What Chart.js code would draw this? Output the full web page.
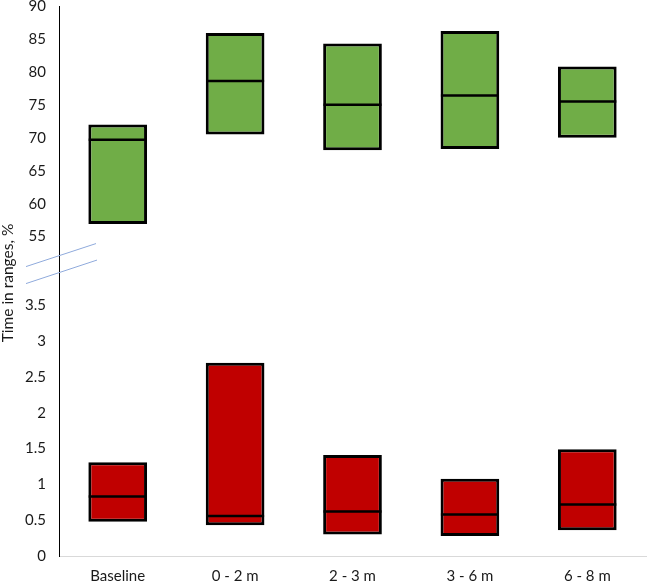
<!DOCTYPE html>
<html>
<head>
<meta charset="utf-8">
<script src="https://cdn.jsdelivr.net/npm/chart.js@4/dist/chart.umd.min.js"></script>
<style>
  html, body { margin: 0; padding: 0; background: #fff; }
  #wrap { width: 647px; height: 585px; }
</style>
</head>
<body>
<div id="wrap"><canvas id="tir-chart"></canvas></div>
<script>
const categories = ["Baseline", "0 - 2 m", "2 - 3 m", "3 - 6 m", "6 - 8 m"];

// time in range (upper panel), %
const tirLow    = [56.9, 70.5, 68.1, 68.3, 70.0];
const tirMedian = [69.7, 78.6, 75.0, 76.4, 75.5];
const tirHigh   = [72.0, 85.9, 84.3, 86.2, 80.8];

// time below range (lower panel), %
const tbrLow    = [0.48, 0.43, 0.30, 0.28, 0.36];
const tbrMedian = [0.83, 0.56, 0.62, 0.58, 0.72];
const tbrHigh   = [1.31, 2.70, 1.41, 1.08, 1.49];

const upperTicks = [55, 60, 65, 70, 75, 80, 85, 90];
const lowerTicks = [0, 0.5, 1, 1.5, 2, 2.5, 3, 3.5];

(function(){
    const font = { family: "Lato, 'Noto Sans', sans-serif", size: 15 };
    const tickColor = "#1a1a1a";

    const boxes = (lo, hi) => lo.map((v, i) => [v, hi[i]]);

    const fixY = (scale) => {
        scale.width = 59;
        scale.paddingTop = 0;
        scale.paddingBottom = 0;
    };

    // axis title + the two break marks
    const decor = {
        id: "decor",
        afterDraw(chart) {
            const ctx = chart.ctx;
            const area = chart.chartArea;
            const split = chart.scales.yBot.top;
            const left = area.left;

            ctx.save();
            ctx.strokeStyle = "#8faadc";
            ctx.lineWidth = 1;
            ctx.beginPath();
            ctx.moveTo(left - 33, split - 3);
            ctx.lineTo(left + 37, split - 26);
            ctx.moveTo(left - 33, split + 14);
            ctx.lineTo(left + 38, split - 9.5);
            ctx.stroke();

            ctx.translate(13, (area.top + area.bottom) / 2 + 2);
            ctx.rotate(-Math.PI / 2);
            ctx.fillStyle = tickColor;
            ctx.font = "15.5px Lato, 'Noto Sans', sans-serif";
            ctx.textAlign = "center";
            ctx.textBaseline = "alphabetic";
            ctx.fillText("Time in ranges, %", 0, 0);
            ctx.restore();
        }
    };

    const barSet = (data, color, axis) => ({
        type: "bar",
        data: data,
        yAxisID: axis,
        backgroundColor: color,
        borderColor: "#000",
        borderWidth: 3,
        borderSkipped: false,
        grouped: false,
        barPercentage: 0.5,
        categoryPercentage: 1,
        order: 2
    });

    const medianSet = (data, axis) => ({
        type: "line",
        data: data,
        yAxisID: axis,
        showLine: false,
        pointStyle: "line",
        pointRadius: 29,
        pointHoverRadius: 29,
        pointBorderWidth: 2.5,
        pointBorderColor: "#000",
        order: 1
    });

    new Chart(document.getElementById("tir-chart"), {
        data: {
            labels: categories,
            datasets: [
                barSet(boxes(tirLow, tirHigh), "#70ad47", "yTop"),
                barSet(boxes(tbrLow, tbrHigh), "#c00000", "yBot"),
                medianSet(tirMedian, "yTop"),
                medianSet(tbrMedian, "yBot")
            ]
        },
        options: {
            responsive: true,
            maintainAspectRatio: false,
            animation: false,
            layout: { autoPadding: false, padding: { top: 6, right: 1, left: 0, bottom: 0 } },
            plugins: {
                legend: { display: false },
                tooltip: { enabled: false }
            },
            scales: {
                x: {
                    type: "category",
                    grid: { display: false, drawTicks: false },
                    border: { color: "#d9d9d9", width: 1 },
                    ticks: { font: font, color: tickColor, padding: 11 },
                    afterFit(scale) {
                        scale.height = 29;
                        scale.paddingLeft = 0;
                        scale.paddingRight = 0;
                    }
                },
                yBot: {
                    type: "linear",
                    position: "left",
                    stack: "tir",
                    stackWeight: 285.7,
                    min: 0,
                    max: 4,
                    grid: { display: false, drawTicks: false },
                    border: { color: "#000", width: 1 },
                    ticks: { font: font, color: tickColor, padding: 13, autoSkip: false, callback: v => String(v) },
                    afterBuildTicks(scale) { scale.ticks = lowerTicks.map(v => ({ value: v })); },
                    afterFit: fixY
                },
                yTop: {
                    type: "linear",
                    position: "left",
                    stack: "tir",
                    stackWeight: 262.9,
                    min: 50,
                    max: 90,
                    grid: { display: false, drawTicks: false },
                    border: { color: "#000", width: 1 },
                    ticks: { font: font, color: tickColor, padding: 13, autoSkip: false, callback: v => String(v) },
                    afterBuildTicks(scale) { scale.ticks = upperTicks.map(v => ({ value: v })); },
                    afterFit: fixY
                }
            }
        },
        plugins: [decor]
    });
})();
</script>
</body>
</html>
